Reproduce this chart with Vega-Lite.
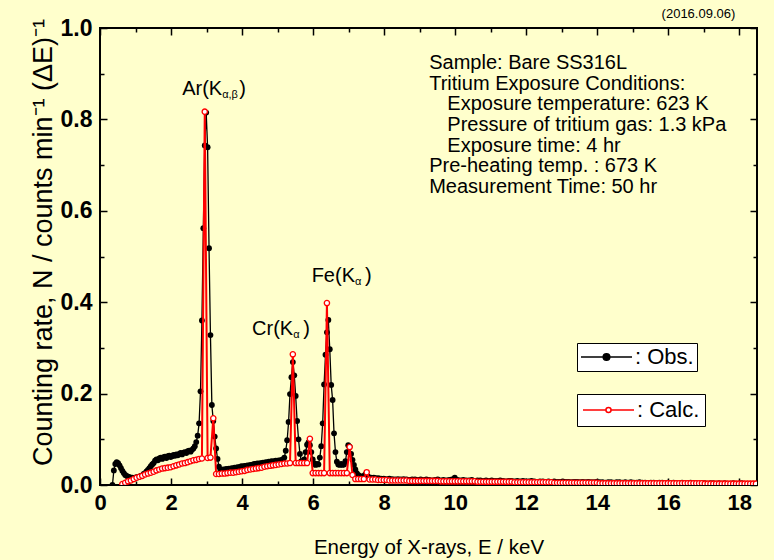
{
"$schema": "https://vega.github.io/schema/vega-lite/v6.json",
"width": 657, "height": 457,
"autosize": {"type": "none"},
"padding": {"left": 100, "top": 28, "right": 17, "bottom": 75},
"background": "#FFFFCC",
"config": {"view": {"stroke": "black", "strokeWidth": 2, "fill": "#FFFFCC"}, "font": "Liberation Sans",
  "axis": {"grid": false, "domain": false, "tickColor": "black", "tickWidth": 1.5, "labelColor": "black", "titleColor": "black", "labelFont": "Liberation Sans", "titleFont": "Liberation Sans", "labelFlush": false, "labelOverlap": false}},
"datasets": {
"obs": [
{"E":0.35,"N":0.000},{"E":0.39,"N":0.032},{"E":0.43,"N":0.046},{"E":0.47,"N":0.050},{"E":0.51,"N":0.048},{"E":0.55,"N":0.043},{"E":0.59,"N":0.037},{"E":0.63,"N":0.031},{"E":0.67,"N":0.026},{"E":0.71,"N":0.022},{"E":0.75,"N":0.020},{"E":0.79,"N":0.018},{"E":0.83,"N":0.017},{"E":0.87,"N":0.016},{"E":0.91,"N":0.016},{"E":0.95,"N":0.015},{"E":0.99,"N":0.016},{"E":1.03,"N":0.017},{"E":1.07,"N":0.017},{"E":1.11,"N":0.018},{"E":1.15,"N":0.020},{"E":1.19,"N":0.021},{"E":1.23,"N":0.024},{"E":1.27,"N":0.026},{"E":1.31,"N":0.030},{"E":1.35,"N":0.033},{"E":1.39,"N":0.037},{"E":1.43,"N":0.041},{"E":1.47,"N":0.045},{"E":1.51,"N":0.048},{"E":1.55,"N":0.053},{"E":1.59,"N":0.056},{"E":1.63,"N":0.054},{"E":1.67,"N":0.058},{"E":1.71,"N":0.060},{"E":1.75,"N":0.057},{"E":1.79,"N":0.061},{"E":1.83,"N":0.062},{"E":1.87,"N":0.059},{"E":1.91,"N":0.063},{"E":1.95,"N":0.064},{"E":1.99,"N":0.061},{"E":2.03,"N":0.063},{"E":2.07,"N":0.066},{"E":2.11,"N":0.064},{"E":2.15,"N":0.067},{"E":2.19,"N":0.065},{"E":2.23,"N":0.068},{"E":2.27,"N":0.070},{"E":2.31,"N":0.067},{"E":2.35,"N":0.071},{"E":2.39,"N":0.072},{"E":2.43,"N":0.070},{"E":2.47,"N":0.074},{"E":2.51,"N":0.075},{"E":2.55,"N":0.073},{"E":2.59,"N":0.077},{"E":2.63,"N":0.080},{"E":2.67,"N":0.085},{"E":2.71,"N":0.094},{"E":2.75,"N":0.108},{"E":2.79,"N":0.135},{"E":2.83,"N":0.205},{"E":2.87,"N":0.360},{"E":2.91,"N":0.562},{"E":2.95,"N":0.743},{"E":2.99,"N":0.815},{"E":3.03,"N":0.739},{"E":3.07,"N":0.518},{"E":3.11,"N":0.328},{"E":3.15,"N":0.175},{"E":3.19,"N":0.140},{"E":3.23,"N":0.106},{"E":3.27,"N":0.080},{"E":3.31,"N":0.057},{"E":3.35,"N":0.040},{"E":3.39,"N":0.033},{"E":3.43,"N":0.032},{"E":3.47,"N":0.034},{"E":3.51,"N":0.033},{"E":3.55,"N":0.035},{"E":3.59,"N":0.034},{"E":3.63,"N":0.036},{"E":3.67,"N":0.035},{"E":3.71,"N":0.037},{"E":3.75,"N":0.036},{"E":3.79,"N":0.038},{"E":3.83,"N":0.037},{"E":3.87,"N":0.039},{"E":3.91,"N":0.038},{"E":3.95,"N":0.040},{"E":3.99,"N":0.041},{"E":4.03,"N":0.040},{"E":4.07,"N":0.042},{"E":4.11,"N":0.041},{"E":4.15,"N":0.043},{"E":4.19,"N":0.042},{"E":4.23,"N":0.044},{"E":4.27,"N":0.043},{"E":4.31,"N":0.045},{"E":4.35,"N":0.046},{"E":4.39,"N":0.045},{"E":4.43,"N":0.047},{"E":4.47,"N":0.046},{"E":4.51,"N":0.048},{"E":4.55,"N":0.047},{"E":4.59,"N":0.049},{"E":4.63,"N":0.048},{"E":4.67,"N":0.050},{"E":4.71,"N":0.049},{"E":4.75,"N":0.051},{"E":4.79,"N":0.050},{"E":4.83,"N":0.052},{"E":4.87,"N":0.051},{"E":4.91,"N":0.052},{"E":4.95,"N":0.053},{"E":4.99,"N":0.052},{"E":5.03,"N":0.054},{"E":5.07,"N":0.053},{"E":5.11,"N":0.055},{"E":5.15,"N":0.056},{"E":5.19,"N":0.060},{"E":5.23,"N":0.075},{"E":5.27,"N":0.098},{"E":5.31,"N":0.138},{"E":5.35,"N":0.199},{"E":5.39,"N":0.236},{"E":5.43,"N":0.269},{"E":5.47,"N":0.240},{"E":5.51,"N":0.195},{"E":5.55,"N":0.140},{"E":5.59,"N":0.100},{"E":5.63,"N":0.068},{"E":5.67,"N":0.052},{"E":5.71,"N":0.049},{"E":5.75,"N":0.056},{"E":5.79,"N":0.072},{"E":5.83,"N":0.088},{"E":5.87,"N":0.093},{"E":5.91,"N":0.087},{"E":5.95,"N":0.072},{"E":5.99,"N":0.056},{"E":6.03,"N":0.047},{"E":6.07,"N":0.044},{"E":6.11,"N":0.046},{"E":6.15,"N":0.045},{"E":6.19,"N":0.060},{"E":6.23,"N":0.085},{"E":6.27,"N":0.135},{"E":6.31,"N":0.220},{"E":6.35,"N":0.285},{"E":6.39,"N":0.334},{"E":6.43,"N":0.361},{"E":6.47,"N":0.297},{"E":6.51,"N":0.219},{"E":6.55,"N":0.186},{"E":6.59,"N":0.113},{"E":6.63,"N":0.072},{"E":6.67,"N":0.051},{"E":6.71,"N":0.045},{"E":6.75,"N":0.044},{"E":6.79,"N":0.046},{"E":6.83,"N":0.044},{"E":6.87,"N":0.045},{"E":6.91,"N":0.052},{"E":6.95,"N":0.072},{"E":6.99,"N":0.087},{"E":7.03,"N":0.084},{"E":7.07,"N":0.068},{"E":7.11,"N":0.055},{"E":7.15,"N":0.044},{"E":7.19,"N":0.034},{"E":7.23,"N":0.026},{"E":7.27,"N":0.022},{"E":7.31,"N":0.020},{"E":7.35,"N":0.018},{"E":7.39,"N":0.018},{"E":7.43,"N":0.020},{"E":7.47,"N":0.023},{"E":7.51,"N":0.021},{"E":7.55,"N":0.018},{"E":7.59,"N":0.016},{"E":7.63,"N":0.016},{"E":7.67,"N":0.015},{"E":7.71,"N":0.016},{"E":7.75,"N":0.015},{"E":7.79,"N":0.014},{"E":7.83,"N":0.015},{"E":7.87,"N":0.014},{"E":7.91,"N":0.014},{"E":7.95,"N":0.013},{"E":7.99,"N":0.014},
{"E":8.07,"N":0.013},{"E":8.15,"N":0.014},{"E":8.23,"N":0.013},{"E":8.31,"N":0.012},{"E":8.39,"N":0.013},{"E":8.47,"N":0.012},{"E":8.55,"N":0.013},{"E":8.63,"N":0.012},{"E":8.71,"N":0.011},{"E":8.79,"N":0.012},{"E":8.87,"N":0.012},{"E":8.95,"N":0.011},{"E":9.03,"N":0.012},{"E":9.11,"N":0.011},{"E":9.19,"N":0.012},{"E":9.27,"N":0.011},{"E":9.35,"N":0.010},{"E":9.43,"N":0.011},{"E":9.51,"N":0.012},{"E":9.59,"N":0.010},{"E":9.67,"N":0.011},{"E":9.75,"N":0.010},{"E":9.83,"N":0.011},{"E":9.91,"N":0.012},{"E":9.99,"N":0.016},{"E":10.07,"N":0.011},{"E":10.15,"N":0.010},{"E":10.23,"N":0.011},{"E":10.31,"N":0.010},{"E":10.39,"N":0.010},{"E":10.47,"N":0.011},{"E":10.55,"N":0.009},{"E":10.63,"N":0.010},{"E":10.71,"N":0.010},{"E":10.79,"N":0.009},{"E":10.87,"N":0.010},{"E":10.95,"N":0.009},{"E":11.03,"N":0.010},{"E":11.11,"N":0.009},{"E":11.19,"N":0.009},{"E":11.27,"N":0.010},{"E":11.35,"N":0.009},{"E":11.43,"N":0.008},{"E":11.51,"N":0.009},{"E":11.59,"N":0.009},{"E":11.67,"N":0.008},{"E":11.75,"N":0.009},{"E":11.83,"N":0.008},{"E":11.91,"N":0.009},{"E":11.99,"N":0.008},{"E":12.07,"N":0.008},{"E":12.15,"N":0.009},{"E":12.23,"N":0.008},{"E":12.31,"N":0.007},{"E":12.39,"N":0.008},{"E":12.47,"N":0.008},{"E":12.55,"N":0.007},{"E":12.63,"N":0.008},{"E":12.71,"N":0.007},{"E":12.79,"N":0.008},{"E":12.87,"N":0.007},{"E":12.95,"N":0.007},{"E":13.03,"N":0.008},{"E":13.11,"N":0.007},{"E":13.19,"N":0.007},{"E":13.27,"N":0.006},{"E":13.35,"N":0.007},{"E":13.43,"N":0.007},{"E":13.51,"N":0.006},{"E":13.59,"N":0.007},{"E":13.67,"N":0.006},{"E":13.75,"N":0.007},{"E":13.83,"N":0.006},{"E":13.91,"N":0.006},{"E":13.99,"N":0.007},{"E":14.07,"N":0.006},{"E":14.15,"N":0.006},{"E":14.23,"N":0.005},{"E":14.31,"N":0.006},{"E":14.39,"N":0.006},{"E":14.47,"N":0.005},{"E":14.55,"N":0.006},{"E":14.63,"N":0.006},{"E":14.71,"N":0.005},{"E":14.79,"N":0.006},{"E":14.87,"N":0.005},{"E":14.95,"N":0.006},{"E":15.03,"N":0.005},{"E":15.11,"N":0.005},{"E":15.19,"N":0.006},{"E":15.27,"N":0.005},{"E":15.35,"N":0.005},{"E":15.43,"N":0.004},{"E":15.51,"N":0.005},{"E":15.59,"N":0.005},{"E":15.67,"N":0.004},{"E":15.75,"N":0.005},{"E":15.83,"N":0.005},{"E":15.91,"N":0.004},{"E":15.99,"N":0.005},{"E":16.07,"N":0.004},{"E":16.15,"N":0.005},{"E":16.23,"N":0.004},{"E":16.31,"N":0.004},{"E":16.39,"N":0.005},{"E":16.47,"N":0.004},{"E":16.55,"N":0.004},{"E":16.63,"N":0.005},{"E":16.71,"N":0.004},{"E":16.79,"N":0.004},{"E":16.87,"N":0.003},{"E":16.95,"N":0.004},{"E":17.03,"N":0.004},{"E":17.11,"N":0.003},{"E":17.19,"N":0.004},{"E":17.27,"N":0.004},{"E":17.35,"N":0.003},{"E":17.43,"N":0.004},{"E":17.51,"N":0.003},{"E":17.59,"N":0.004},{"E":17.67,"N":0.003},{"E":17.75,"N":0.003},{"E":17.83,"N":0.004},{"E":17.91,"N":0.003},{"E":17.99,"N":0.003},{"E":18.07,"N":0.004},{"E":18.15,"N":0.003},{"E":18.23,"N":0.003},{"E":18.31,"N":0.003},{"E":18.39,"N":0.003},{"E":18.47,"N":0.003}
],
"calc": [
{"E":0.63,"N":0.002},{"E":0.71,"N":0.005},{"E":0.79,"N":0.008},{"E":0.87,"N":0.010},{"E":0.95,"N":0.013},{"E":1.03,"N":0.016},{"E":1.11,"N":0.018},{"E":1.19,"N":0.020},{"E":1.27,"N":0.023},{"E":1.35,"N":0.025},{"E":1.43,"N":0.027},{"E":1.51,"N":0.029},{"E":1.59,"N":0.032},{"E":1.67,"N":0.034},{"E":1.75,"N":0.036},{"E":1.83,"N":0.037},{"E":1.91,"N":0.038},{"E":1.99,"N":0.039},{"E":2.07,"N":0.041},{"E":2.15,"N":0.043},{"E":2.23,"N":0.045},{"E":2.31,"N":0.047},{"E":2.39,"N":0.048},{"E":2.47,"N":0.050},{"E":2.55,"N":0.052},{"E":2.63,"N":0.054},{"E":2.71,"N":0.055},{"E":2.79,"N":0.057},{"E":2.87,"N":0.058},{"E":2.95,"N":0.817},{"E":3.03,"N":0.059},{"E":3.11,"N":0.060},{"E":3.19,"N":0.146},{"E":3.27,"N":0.024},{"E":3.35,"N":0.024},{"E":3.43,"N":0.025},{"E":3.51,"N":0.025},{"E":3.59,"N":0.026},{"E":3.67,"N":0.027},{"E":3.75,"N":0.027},{"E":3.83,"N":0.028},{"E":3.91,"N":0.029},{"E":3.99,"N":0.030},{"E":4.07,"N":0.031},{"E":4.15,"N":0.033},{"E":4.23,"N":0.034},{"E":4.31,"N":0.035},{"E":4.39,"N":0.036},{"E":4.47,"N":0.037},{"E":4.55,"N":0.038},{"E":4.63,"N":0.040},{"E":4.71,"N":0.041},{"E":4.79,"N":0.042},{"E":4.87,"N":0.043},{"E":4.95,"N":0.044},{"E":5.03,"N":0.045},{"E":5.11,"N":0.046},{"E":5.19,"N":0.047},{"E":5.27,"N":0.047},{"E":5.35,"N":0.048},{"E":5.43,"N":0.286},{"E":5.51,"N":0.048},{"E":5.59,"N":0.048},{"E":5.67,"N":0.048},{"E":5.75,"N":0.048},{"E":5.83,"N":0.048},{"E":5.91,"N":0.101},{"E":5.99,"N":0.026},{"E":6.07,"N":0.026},{"E":6.15,"N":0.026},{"E":6.23,"N":0.026},{"E":6.31,"N":0.026},{"E":6.39,"N":0.398},{"E":6.47,"N":0.026},{"E":6.55,"N":0.026},{"E":6.63,"N":0.026},{"E":6.71,"N":0.026},{"E":6.79,"N":0.026},{"E":6.87,"N":0.026},{"E":6.95,"N":0.026},{"E":7.03,"N":0.083},{"E":7.11,"N":0.022},{"E":7.19,"N":0.013},{"E":7.27,"N":0.013},{"E":7.35,"N":0.013},{"E":7.43,"N":0.013},{"E":7.51,"N":0.028},{"E":7.59,"N":0.012},{"E":7.67,"N":0.012},{"E":7.75,"N":0.012},{"E":7.83,"N":0.011},{"E":7.91,"N":0.011},{"E":7.99,"N":0.011},
{"E":8.07,"N":0.011},{"E":8.15,"N":0.010},{"E":8.23,"N":0.010},{"E":8.31,"N":0.010},{"E":8.39,"N":0.010},{"E":8.47,"N":0.010},{"E":8.55,"N":0.010},{"E":8.63,"N":0.010},{"E":8.71,"N":0.009},{"E":8.79,"N":0.009},{"E":8.87,"N":0.009},{"E":8.95,"N":0.009},{"E":9.03,"N":0.009},{"E":9.11,"N":0.009},{"E":9.19,"N":0.009},{"E":9.27,"N":0.009},{"E":9.35,"N":0.009},{"E":9.43,"N":0.009},{"E":9.51,"N":0.009},{"E":9.59,"N":0.008},{"E":9.67,"N":0.008},{"E":9.75,"N":0.008},{"E":9.83,"N":0.008},{"E":9.91,"N":0.008},{"E":9.99,"N":0.008},{"E":10.07,"N":0.008},{"E":10.15,"N":0.008},{"E":10.23,"N":0.008},{"E":10.31,"N":0.008},{"E":10.39,"N":0.008},{"E":10.47,"N":0.008},{"E":10.55,"N":0.008},{"E":10.63,"N":0.007},{"E":10.71,"N":0.007},{"E":10.79,"N":0.007},{"E":10.87,"N":0.007},{"E":10.95,"N":0.007},{"E":11.03,"N":0.007},{"E":11.11,"N":0.007},{"E":11.19,"N":0.007},{"E":11.27,"N":0.007},{"E":11.35,"N":0.007},{"E":11.43,"N":0.007},{"E":11.51,"N":0.007},{"E":11.59,"N":0.007},{"E":11.67,"N":0.006},{"E":11.75,"N":0.006},{"E":11.83,"N":0.006},{"E":11.91,"N":0.006},{"E":11.99,"N":0.006},{"E":12.07,"N":0.006},{"E":12.15,"N":0.006},{"E":12.23,"N":0.006},{"E":12.31,"N":0.006},{"E":12.39,"N":0.006},{"E":12.47,"N":0.006},{"E":12.55,"N":0.006},{"E":12.63,"N":0.006},{"E":12.71,"N":0.006},{"E":12.79,"N":0.005},{"E":12.87,"N":0.005},{"E":12.95,"N":0.005},{"E":13.03,"N":0.005},{"E":13.11,"N":0.005},{"E":13.19,"N":0.005},{"E":13.27,"N":0.005},{"E":13.35,"N":0.005},{"E":13.43,"N":0.005},{"E":13.51,"N":0.005},{"E":13.59,"N":0.005},{"E":13.67,"N":0.005},{"E":13.75,"N":0.005},{"E":13.83,"N":0.005},{"E":13.91,"N":0.005},{"E":13.99,"N":0.005},{"E":14.07,"N":0.004},{"E":14.15,"N":0.004},{"E":14.23,"N":0.004},{"E":14.31,"N":0.004},{"E":14.39,"N":0.004},{"E":14.47,"N":0.004},{"E":14.55,"N":0.004},{"E":14.63,"N":0.004},{"E":14.71,"N":0.004},{"E":14.79,"N":0.004},{"E":14.87,"N":0.004},{"E":14.95,"N":0.004},{"E":15.03,"N":0.004},{"E":15.11,"N":0.004},{"E":15.19,"N":0.004},{"E":15.27,"N":0.004},{"E":15.35,"N":0.004},{"E":15.43,"N":0.004},{"E":15.51,"N":0.004},{"E":15.59,"N":0.004},{"E":15.67,"N":0.004},{"E":15.75,"N":0.004},{"E":15.83,"N":0.004},{"E":15.91,"N":0.004},{"E":15.99,"N":0.004},{"E":16.07,"N":0.004},{"E":16.15,"N":0.004},{"E":16.23,"N":0.004},{"E":16.31,"N":0.004},{"E":16.39,"N":0.004},{"E":16.47,"N":0.004},{"E":16.55,"N":0.004},{"E":16.63,"N":0.004},{"E":16.71,"N":0.004},{"E":16.79,"N":0.004},{"E":16.87,"N":0.004},{"E":16.95,"N":0.004},{"E":17.03,"N":0.003},{"E":17.11,"N":0.003},{"E":17.19,"N":0.003},{"E":17.27,"N":0.003},{"E":17.35,"N":0.003},{"E":17.43,"N":0.003},{"E":17.51,"N":0.003},{"E":17.59,"N":0.003},{"E":17.67,"N":0.003},{"E":17.75,"N":0.003},{"E":17.83,"N":0.003},{"E":17.91,"N":0.003},{"E":17.99,"N":0.003},{"E":18.07,"N":0.003},{"E":18.15,"N":0.003},{"E":18.23,"N":0.003},{"E":18.31,"N":0.003},{"E":18.39,"N":0.003},{"E":18.47,"N":0.003}
],
"peaks": [
{"peak":"Ar","x1":3.44,"x2":3.92,"y":0.853,"main":"Ar(K","sub":"α,β"},
{"peak":"Cr","x1":5.44,"x2":5.72,"y":0.328,"main":"Cr(K","sub":"α"},
{"peak":"Fe","x1":7.18,"x2":7.46,"y":0.444,"main":"Fe(K","sub":"α"}
],
"notes": [
{"x":9.27,"y":0.910,"line":"Sample: Bare SS316L"},
{"x":9.27,"y":0.8649,"line":"Tritium Exposure Conditions:"},
{"x":9.78,"y":0.8198,"line":"Exposure temperature: 623 K"},
{"x":9.78,"y":0.7747,"line":"Pressure of tritium gas: 1.3 kPa"},
{"x":9.78,"y":0.7296,"line":"Exposure time: 4 hr"},
{"x":9.27,"y":0.6845,"line":"Pre-heating temp. : 673 K"},
{"x":9.27,"y":0.6394,"line":"Measurement Time: 50 hr"}
]
},
"resolve": {"scale": {"stroke": "independent"}, "legend": {"stroke": "independent"}, "axis": {"x": "independent", "y": "independent"}},
"layer": [
{"data": {"name": "obs"},
 "mark": {"type": "line", "color": "black", "strokeWidth": 1.3, "clip": true},
 "encoding": {
  "x": {"field": "E", "type": "quantitative", "scale": {"domain": [0, 18.5], "nice": false},
        "axis": {"orient": "bottom", "values": [0,2,4,6,8,10,12,14,16,18], "tickSize": -7, "labelFontSize": 22, "labelFontWeight": "bold", "labelPadding": 14, "labelBaseline": "top",
                 "title": "Energy of X-rays, E / keV", "titleFontSize": 20.5, "titleFontWeight": "normal", "titleBaseline": "alphabetic", "titleY": 68}},
  "y": {"field": "N", "type": "quantitative", "scale": {"domain": [0, 1], "nice": false},
        "axis": {"orient": "left", "values": [0,0.2,0.4,0.6,0.8,1.0], "format": ".1f", "tickSize": -7, "labelFontSize": 23, "labelFontWeight": "bold", "labelPadding": 15,
                 "title": "Counting rate, N / counts min⁻¹ (ΔE)⁻¹", "titleFontSize": 27, "titleFontWeight": "normal", "titleBaseline": "alphabetic", "titleX": -49, "titleY": 214}},
  "stroke": {"datum": "Obs.", "scale": {"range": ["black"]},
             "legend": {"orient": "none", "legendX": 477, "legendY": 315, "title": null, "labelExpr": "': ' + datum.label", "labelFontSize": 22, "labelFont": "Liberation Sans", "labelColor": "black",
                        "symbolType": "M-1,0H1M-0.13,0A0.13,0.13,0,1,1,0.13,0A0.13,0.13,0,1,1,-0.13,0Z", "symbolSize": 2601, "symbolStrokeWidth": 1.5, "clipHeight": 22,
                        "fillColor": "white", "strokeColor": "black", "padding": 3, "cornerRadius": 0, "labelOffset": 2,
                        "encode": {"symbols": {"update": {"fill": {"value": "black"}, "stroke": {"value": "black"}, "strokeWidth": {"value": 1.5}}}}}}
 }},
{"data": {"name": "obs"},
 "mark": {"type": "point", "shape": "circle", "filled": true, "color": "black", "size": 34, "opacity": 1, "clip": true},
 "encoding": {
  "x": {"field": "E", "type": "quantitative", "scale": {"domain": [0, 18.5], "nice": false},
        "axis": {"orient": "bottom", "values": [1,3,5,7,9,11,13,15,17], "tickSize": -4, "labels": false, "title": null}},
  "y": {"field": "N", "type": "quantitative", "scale": {"domain": [0, 1], "nice": false},
        "axis": {"orient": "left", "values": [0.1,0.3,0.5,0.7,0.9], "tickSize": -4, "labels": false, "title": null}}
 }},
{"data": {"name": "calc"},
 "mark": {"type": "line", "color": "#FF0000", "strokeWidth": 2, "clip": true},
 "encoding": {
  "x": {"field": "E", "type": "quantitative", "scale": {"domain": [0, 18.5], "nice": false},
        "axis": {"orient": "top", "values": [0,2,4,6,8,10,12,14,16,18], "tickSize": -7, "labels": false, "title": null}},
  "y": {"field": "N", "type": "quantitative", "scale": {"domain": [0, 1], "nice": false},
        "axis": {"orient": "right", "values": [0,0.2,0.4,0.6,0.8,1.0], "tickSize": -7, "labels": false, "title": null}},
  "stroke": {"datum": "Calc.", "scale": {"range": ["#FF0000"]},
             "legend": {"orient": "none", "legendX": 477, "legendY": 366, "title": null, "labelExpr": "': ' + datum.label", "labelFontSize": 22, "labelFont": "Liberation Sans", "labelColor": "black",
                        "symbolType": "M-1,0H-0.1M0.1,0H1M-0.1,0A0.1,0.1,0,1,1,0.1,0A0.1,0.1,0,1,1,-0.1,0Z", "symbolSize": 2601, "symbolStrokeWidth": 1.5, "clipHeight": 22,
                        "fillColor": "white", "strokeColor": "black", "padding": 5, "cornerRadius": 0, "labelOffset": 2,
                        "encode": {"symbols": {"update": {"fill": {"value": "white"}, "stroke": {"value": "#FF0000"}, "strokeWidth": {"value": 1.5}}}}}}
 }},
{"data": {"name": "calc"},
 "mark": {"type": "point", "shape": "circle", "filled": true, "fill": "white", "stroke": "#FF0000", "strokeWidth": 1.3, "size": 28, "opacity": 1, "clip": true},
 "encoding": {
  "x": {"field": "E", "type": "quantitative", "scale": {"domain": [0, 18.5], "nice": false},
        "axis": {"orient": "top", "values": [1,3,5,7,9,11,13,15,17], "tickSize": -4, "labels": false, "title": null}},
  "y": {"field": "N", "type": "quantitative", "scale": {"domain": [0, 1], "nice": false},
        "axis": {"orient": "right", "values": [0.1,0.3,0.5,0.7,0.9], "tickSize": -4, "labels": false, "title": null}}
 }},
{"data": {"name": "peaks"},
 "mark": {"type": "text", "align": "right", "baseline": "alphabetic", "fontSize": 20, "font": "Liberation Sans", "color": "black"},
 "encoding": {
  "x": {"field": "x1", "type": "quantitative", "scale": {"domain": [0, 18.5], "nice": false}, "axis": null},
  "y": {"field": "y", "type": "quantitative", "scale": {"domain": [0, 1], "nice": false}, "axis": null},
  "text": {"field": "main"}
 }},
{"data": {"name": "peaks"},
 "mark": {"type": "text", "align": "left", "baseline": "alphabetic", "fontSize": 11, "dy": 3, "font": "Liberation Sans", "color": "black"},
 "encoding": {
  "x": {"field": "x1", "type": "quantitative", "scale": {"domain": [0, 18.5], "nice": false}, "axis": null},
  "y": {"field": "y", "type": "quantitative", "scale": {"domain": [0, 1], "nice": false}, "axis": null},
  "text": {"field": "sub"}
 }},
{"data": {"name": "peaks"},
 "mark": {"type": "text", "align": "left", "baseline": "alphabetic", "fontSize": 20, "font": "Liberation Sans", "color": "black", "text": ")"},
 "encoding": {
  "x": {"field": "x2", "type": "quantitative", "scale": {"domain": [0, 18.5], "nice": false}, "axis": null},
  "y": {"field": "y", "type": "quantitative", "scale": {"domain": [0, 1], "nice": false}, "axis": null}
 }},
{"data": {"name": "notes"},
 "mark": {"type": "text", "align": "left", "baseline": "alphabetic", "fontSize": 20, "font": "Liberation Sans", "color": "black"},
 "encoding": {
  "x": {"field": "x", "type": "quantitative", "scale": {"domain": [0, 18.5], "nice": false}, "axis": null},
  "y": {"field": "y", "type": "quantitative", "scale": {"domain": [0, 1], "nice": false}, "axis": null},
  "text": {"field": "line"}
 }},
{"data": {"values": [{"note": "date"}]},
 "mark": {"type": "text", "align": "right", "baseline": "alphabetic", "fontSize": 13, "font": "Liberation Sans", "color": "black", "text": "(2016.09.06)"},
 "encoding": {
  "x": {"datum": 17.89, "type": "quantitative", "scale": {"domain": [0, 18.5], "nice": false}, "axis": null},
  "y": {"datum": 1.021, "type": "quantitative", "scale": {"domain": [0, 1], "nice": false}, "axis": null}
 }}
]
}
